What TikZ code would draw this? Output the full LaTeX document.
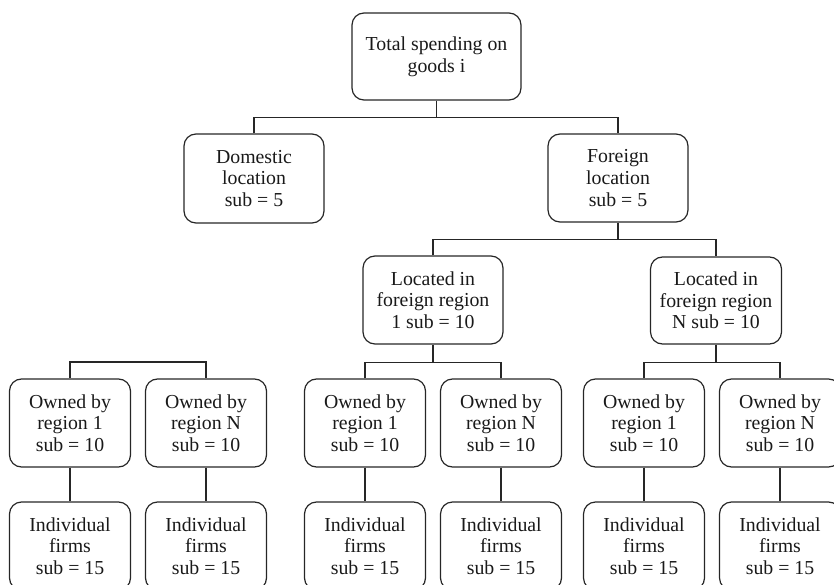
\documentclass[tikz,border=0pt]{standalone}
\usepackage{fontspec}
\setmainfont{Liberation Serif}
\begin{document}
\begin{tikzpicture}[x=1pt,y=-1pt,
  box/.style={draw=black!85, rounded corners=12pt, line width=1.2pt, align=center, inner sep=0pt,
    font=\fontsize{19.8}{21.7}\selectfont, text=black!90},
  wide/.style={box, minimum width=140pt, minimum height=88pt},
  small/.style={box, minimum width=121pt, minimum height=88pt},
  conn/.style={draw=black!85, line width=1.2pt}]
\clip (0,0) rectangle (834,585);
\node[box, minimum width=169pt, minimum height=87pt] (top) at (436.5,56.5) {Total spending on\\goods i};
\node[wide, minimum height=89pt] (dom) at (254,178.5) {Domestic\\location\\sub = 5};
\node[wide] (for) at (618,178) {Foreign\\location\\sub = 5};
\node[wide] (loc1) at (433,300) {Located in\\foreign region\\1 sub = 10};
\node[wide, minimum width=131pt, minimum height=87pt] (locN) at (716,300.5) {Located in\\foreign region\\N sub = 10};
% owned row
\node[small] (oa1) at (70,423) {Owned by\\region 1\\sub = 10};
\node[small] (oaN) at (206,423) {Owned by\\region N\\sub = 10};
\node[small] (ob1) at (365,423) {Owned by\\region 1\\sub = 10};
\node[small] (obN) at (501,423) {Owned by\\region N\\sub = 10};
\node[small] (oc1) at (644,423) {Owned by\\region 1\\sub = 10};
\node[small] (ocN) at (780,423) {Owned by\\region N\\sub = 10};
% individual row
\node[small] (ia1) at (70,546) {Individual\\firms\\sub = 15};
\node[small] (iaN) at (206,546) {Individual\\firms\\sub = 15};
\node[small] (ib1) at (365,546) {Individual\\firms\\sub = 15};
\node[small] (ibN) at (501,546) {Individual\\firms\\sub = 15};
\node[small] (ic1) at (644,546) {Individual\\firms\\sub = 15};
\node[small] (icN) at (780,546) {Individual\\firms\\sub = 15};
% connectors
\draw[conn] (top.south) -- ++(0,17) coordinate (j1);
\draw[conn] (dom.north) |- (j1) -| (for.north);
\draw[conn] (for.south) -- ++(0,17) coordinate (j2);
\draw[conn] (loc1.north) |- (j2) -| (locN.north);
\draw[conn] (loc1.south) -- ++(0,18) coordinate (j3);
\draw[conn] (ob1.north) |- (j3) -| (obN.north);
\draw[conn] (locN.south) -- ++(0,18) coordinate (j4);
\draw[conn] (oc1.north) |- (j4) -| (ocN.north);
\coordinate (j0) at (138,362);
\draw[conn] (oa1.north) |- (j0) -| (oaN.north);
\foreach \a/\b in {oa1/ia1, oaN/iaN, ob1/ib1, obN/ibN, oc1/ic1, ocN/icN}
  \draw[conn] (\a.south) -- (\b.north);
\end{tikzpicture}
\end{document}
